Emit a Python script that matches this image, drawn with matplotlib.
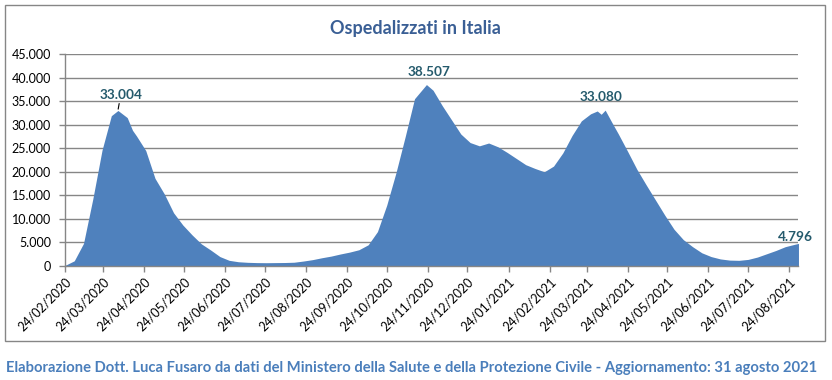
import matplotlib
matplotlib.use("Agg")
import matplotlib.pyplot as plt
import matplotlib.dates as mdates
from matplotlib.ticker import FuncFormatter, MultipleLocator
from matplotlib.patches import Rectangle
import pandas as pd

# hospitalised patients (ricoverati con sintomi + terapia intensiva)
dates = [
    "2020-02-24", "2020-03-02", "2020-03-09", "2020-03-16", "2020-03-23", "2020-03-30",
    "2020-04-04", "2020-04-11", "2020-04-15", "2020-04-18", "2020-04-25", "2020-05-02",
    "2020-05-09", "2020-05-16", "2020-05-23", "2020-05-30", "2020-06-06", "2020-06-13",
    "2020-06-20", "2020-06-27", "2020-07-04", "2020-07-11", "2020-07-18", "2020-07-25",
    "2020-08-01", "2020-08-08", "2020-08-15", "2020-08-22", "2020-08-29", "2020-09-05",
    "2020-09-12", "2020-09-19", "2020-09-26", "2020-10-03", "2020-10-10", "2020-10-17",
    "2020-10-24", "2020-10-31", "2020-11-07", "2020-11-14", "2020-11-23", "2020-11-28",
    "2020-12-05", "2020-12-12", "2020-12-19", "2020-12-26", "2021-01-02", "2021-01-09",
    "2021-01-16", "2021-01-23", "2021-01-30", "2021-02-06", "2021-02-13", "2021-02-20",
    "2021-02-27", "2021-03-06", "2021-03-13", "2021-03-20", "2021-03-27", "2021-04-01",
    "2021-04-04", "2021-04-07", "2021-04-12", "2021-04-17", "2021-04-24", "2021-05-01",
    "2021-05-08", "2021-05-15", "2021-05-22", "2021-05-29", "2021-06-05", "2021-06-12",
    "2021-06-19", "2021-06-26", "2021-07-03", "2021-07-10", "2021-07-17", "2021-07-24",
    "2021-07-31", "2021-08-07", "2021-08-14", "2021-08-21", "2021-08-28", "2021-08-31",
]
ospedalizzati = [
    127, 1100, 4800, 14200, 24600, 31900,
    33004, 31500, 28800, 27600, 24500, 18600,
    15300, 11300, 8700, 6600, 4700, 3400,
    2000, 1200, 900, 780, 720, 700,
    720, 740, 800, 1050, 1350, 1750,
    2100, 2550, 2950, 3450, 4500, 7300,
    12900, 19800, 27500, 35500, 38507, 37300,
    34000, 31000, 28000, 26200, 25500, 26100,
    25300, 24100, 22800, 21500, 20700, 20000,
    21200, 24000, 27700, 30800, 32300, 32900,
    32200, 33080, 30500, 28000, 24300, 20500,
    17200, 14000, 10800, 7800, 5600, 4100,
    2800, 2000, 1500, 1250, 1200, 1400,
    1900, 2600, 3300, 4100, 4600, 4796,
]
labelled = ["2020-04-04", "2020-11-23", "2021-04-07", "2021-08-31"]

x = pd.to_datetime(dates)
s = pd.Series(ospedalizzati, index=x)

plt.rcParams['font.family'] = ['Lato', 'DejaVu Sans']

fig = plt.figure(figsize=(8.32, 3.80), dpi=100)
ax = fig.add_axes([0.0781, 0.30, 0.8816, 0.558])

ax.fill_between(x, 0, ospedalizzati, color='#4F81BD', linewidth=0, zorder=2)

ax.set_xlim(pd.Timestamp("2020-02-24"), pd.Timestamp("2021-08-31"))
ax.set_ylim(0, 45000)
ax.yaxis.set_major_locator(MultipleLocator(5000))
ax.yaxis.set_major_formatter(FuncFormatter(lambda v, p: f"{int(v):,}".replace(",", ".")))
ax.xaxis.set_major_locator(mdates.MonthLocator(bymonthday=24))
ax.xaxis.set_major_formatter(mdates.DateFormatter('%d/%m/%Y'))

ax.grid(axis='y', color='#868686', linewidth=1.0, zorder=1)
ax.set_axisbelow(True)
for side in ['top', 'right']:
    ax.spines[side].set_visible(False)
for side in ['left', 'bottom']:
    ax.spines[side].set_color('#868686')
    ax.spines[side].set_linewidth(1.0)
ax.tick_params(axis='both', colors='#868686', labelcolor='black', length=4, width=1)
ax.tick_params(axis='y', labelsize=9, pad=6)
ax.tick_params(axis='x', labelsize=9, pad=3)
for lab in ax.get_xticklabels():
    lab.set_rotation(45)
    lab.set_ha('right')
    lab.set_rotation_mode('anchor')

lab_color = '#245A6C'
fmt = lambda v: f"{v:,}".replace(",", ".")
offsets = {"2020-04-04": (2, 7), "2020-11-23": (2, 5), "2021-04-07": (-3, 5), "2021-08-31": (-2, 0)}
for d in labelled:
    t = pd.Timestamp(d)
    v = int(s[t])
    dx, dy = offsets[d]
    kw = {}
    if d == "2020-04-04":
        kw['arrowprops'] = dict(arrowstyle='-', color='black', lw=0.8, shrinkA=0, shrinkB=1)
    ax.annotate(fmt(v), xy=(t, v), xytext=(dx, dy), textcoords='offset points',
                ha='center', va='bottom', fontsize=9.8, fontweight='bold',
                color=lab_color, **kw)

fig.text(0.4988, 0.926, "Ospedalizzati in Italia", ha='center', va='center',
         fontsize=13, fontweight='bold', color='#3A5F95')
fig.text(0.0075, 0.032, "Elaborazione Dott. Luca Fusaro da dati del Ministero della Salute e della "
         "Protezione Civile - Aggiornamento: 31 agosto 2021", ha='left', va='center',
         fontsize=10.6, fontweight='bold', color='#4A7EBB')

fig.add_artist(Rectangle((0.006, 0.1026), 0.9856, 0.8844, transform=fig.transFigure,
                         fill=False, edgecolor='#868686', linewidth=1.0))

plt.savefig("out.png", dpi=100)
